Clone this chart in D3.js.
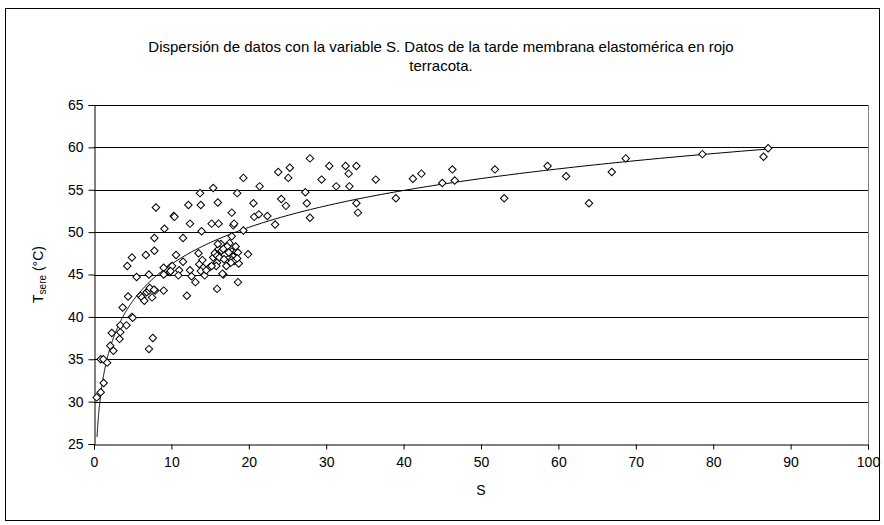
<!DOCTYPE html>
<html>
<head>
<meta charset="utf-8">
<script src="https://cdn.jsdelivr.net/npm/d3@7"></script>
<style>
  body { margin: 0; background: #fff; }
  svg { display: block; font-family: "Liberation Sans", Arial, sans-serif; }
</style>
</head>
<body>
<div id="chart"></div>
<script>
// --- data ---
const titleLines = [
  "Dispersión de datos con la variable S. Datos de la tarde membrana elastomérica en rojo",
  "terracota."
];
const xTicks = [0, 10, 20, 30, 40, 50, 60, 70, 80, 90, 100];
const yTicks = [25, 30, 35, 40, 45, 50, 55, 60, 65];

// S values and matching Tsere values
const sValues = [
  0.35, 0.87, 1.25, 0.87, 1.2, 1.7, 2.1, 2.5, 2.3, 3.3, 3.4, 3.4, 4.2, 3.7, 4.9, 5.0,
  4.4, 5.5, 4.3, 4.9, 6.7, 7.1, 7.8, 6.0, 6.2, 6.5, 6.8, 7.1, 7.5, 7.9, 9.0, 7.6,
  7.1, 9.0, 9.0, 9.8, 9.9, 7.2, 7.75,
  8.0, 10.3, 10.4, 12.2, 13.8, 13.7, 15.4, 16.0, 12.4, 15.2, 16.1, 13.9, 11.5, 9.1,
  7.8, 10.6, 11.5, 10.1, 9.9, 11.0, 10.9, 12.4, 12.6, 13.5, 14.0, 13.6, 14.1, 13.8,
  14.3, 15.0, 15.4, 15.9, 15.8, 15.6, 16.3, 16.7, 13.1, 15.9, 12.0,
  17.8, 18.0, 18.1, 20.7, 17.8, 17.5, 16.4, 16.1, 17.8, 18.4, 18.6, 18.0, 17.8, 18.1,
  17.7, 18.7, 17.1, 19.9, 14.5, 15.2, 16.6, 18.6, 19.3, 18.5,
  16.5, 16.9, 15.9, 16.2, 16.8, 16.0, 17.2, 16.7, 17.4, 18.3, 18.5,
  19.3, 21.4, 20.6, 21.3, 22.4, 23.4, 23.8, 25.3, 25.1, 24.2, 24.8, 27.9, 27.3, 27.5,
  27.9, 29.4, 30.4, 31.3, 32.5, 32.9, 33.9, 33.0, 33.9, 34.1, 36.4, 39.0, 41.2, 42.3,
  45.0, 46.3, 46.6, 51.8, 53.0, 58.6, 61.0, 63.95, 66.9, 68.7, 78.6, 86.5, 87.1
];
const tValues = [
  30.5, 31.1, 32.2, 35.0, 35.0, 34.6, 36.6, 36.0, 38.1, 37.4, 38.2, 39.0, 39.0, 41.1, 40.0, 39.9,
  42.4, 44.7, 46.0, 47.0, 47.3, 45.0, 47.8, 42.5, 42.3, 41.9, 42.9, 43.1, 42.3, 43.1, 43.1, 37.5,
  36.2, 45.8, 45.0, 45.3, 45.9, 43.4, 43.2,
  52.9, 51.9, 51.8, 53.2, 53.2, 54.6, 55.2, 53.5, 51.0, 51.0, 51.0, 50.1, 49.3, 50.4,
  49.3, 47.3, 46.5, 46.0, 45.4, 45.5, 44.9, 45.5, 44.8, 47.5, 46.7, 46.2, 45.8, 45.4,
  44.9, 45.9, 47.0, 46.4, 46.0, 47.5, 48.3, 45.0, 44.1, 43.3, 42.5,
  52.3, 50.8, 51.0, 51.8, 49.5, 48.7, 48.6, 48.0, 47.7, 47.7, 47.6, 47.1, 46.7, 46.6,
  46.4, 46.3, 46.0, 47.4, 45.5, 46.0, 45.1, 44.1, 50.2, 54.6,
  47.8, 47.3, 47.2, 47.0, 46.8, 48.6, 48.3, 48.0, 47.6, 48.3, 46.9,
  56.4, 55.4, 53.4, 52.1, 51.9, 50.9, 57.1, 57.6, 56.4, 53.9, 53.1, 58.7, 54.7, 53.4,
  51.7, 56.2, 57.8, 55.4, 57.8, 56.9, 57.8, 55.4, 53.4, 52.3, 56.2, 54.0, 56.3, 56.9,
  55.8, 57.4, 56.1, 57.4, 54.0, 57.8, 56.6, 53.4, 57.1, 58.7, 59.2, 58.9, 59.9
];

// logarithmic trendline, coefficients: T = a ln(S) + b
const trendSlope = 6.28;
const trendIntercept = 31.75;
const trendRange = [0.39, 87.1];

// --- drawing ---
const width = 884, height = 525;
const svg = d3.select("#chart").append("svg")
  .attr("width", width)
  .attr("height", height);

// outer frame
svg.append("rect")
  .attr("x", 5.5).attr("y", 8.5)
  .attr("width", 874).attr("height", 512)
  .attr("fill", "#fff")
  .attr("stroke", "#000")
  .attr("stroke-width", 1);

const x = d3.scaleLinear().domain([0, 100]).range([94, 868]);
const y = d3.scaleLinear().domain([25, 65]).range([444, 105]);

// title
svg.append("g")
  .selectAll("text")
  .data(titleLines)
  .join("text")
  .attr("x", 441)
  .attr("y", (d, i) => 52 + i * 19)
  .attr("text-anchor", "middle")
  .attr("font-size", 15)
  .text(d => d);

// gridlines
svg.append("g")
  .selectAll("line")
  .data(yTicks.filter(d => d > 25))
  .join("line")
  .attr("x1", x(0)).attr("x2", x(100))
  .attr("y1", d => Math.round(y(d)) + 0.5)
  .attr("y2", d => Math.round(y(d)) + 0.5)
  .attr("stroke", "#000")
  .attr("stroke-width", 1);

// right edge of plot area
svg.append("line")
  .attr("x1", Math.round(x(100)) + 0.5).attr("x2", Math.round(x(100)) + 0.5)
  .attr("y1", y(65)).attr("y2", y(25))
  .attr("stroke", "#808080");

// axes
const xAxis = svg.append("g")
  .attr("transform", `translate(0,${Math.round(y(25)) + 0.5})`)
  .call(d3.axisBottom(x).tickValues(xTicks).tickSize(5).tickPadding(8));
const yAxis = svg.append("g")
  .attr("transform", `translate(${Math.round(x(0)) + 0.5},0)`)
  .call(d3.axisLeft(y).tickValues(yTicks).tickSize(6).tickPadding(5));

[xAxis, yAxis].forEach(g => {
  g.select(".domain").attr("stroke", "#000");
  g.selectAll(".tick line").attr("stroke", "#000");
  g.selectAll(".tick text")
    .attr("font-size", 14)
    .attr("font-family", "'Liberation Sans', Arial, sans-serif")
    .attr("fill", "#000");
});

// axis titles
svg.append("text")
  .attr("x", x(50))
  .attr("y", 495)
  .attr("text-anchor", "middle")
  .attr("font-size", 14)
  .text("S");

const yTitle = svg.append("text")
  .attr("transform", `translate(43,${(y(25) + y(65)) / 2}) rotate(-90)`)
  .attr("text-anchor", "middle")
  .attr("font-size", 14);
yTitle.append("tspan").text("T");
yTitle.append("tspan").attr("font-size", 10).attr("dy", 3).text("sere");
yTitle.append("tspan").attr("dy", -3).text(" (°C)");

// trendline
const trendPts = d3.range(0, 401).map(i => {
  const s = trendRange[0] * Math.pow(trendRange[1] / trendRange[0], i / 400);
  return [s, trendSlope * Math.log(s) + trendIntercept];
});
svg.append("path")
  .datum(trendPts)
  .attr("fill", "none")
  .attr("stroke", "#000")
  .attr("stroke-width", 1)
  .attr("d", d3.line().x(d => x(d[0])).y(d => y(d[1])));

// scatter points (open diamonds)
const points = sValues.map((s, i) => ({ s, t: tValues[i] }));
const diamond = d3.symbol().type(d3.symbolSquare).size(28);
svg.append("g")
  .selectAll("path")
  .data(points)
  .join("path")
  .attr("d", diamond)
  .attr("transform", d => `translate(${x(d.s)},${y(d.t)}) rotate(45)`)
  .attr("fill", "#fff")
  .attr("stroke", "#000")
  .attr("stroke-width", 1);
</script>
</body>
</html>
